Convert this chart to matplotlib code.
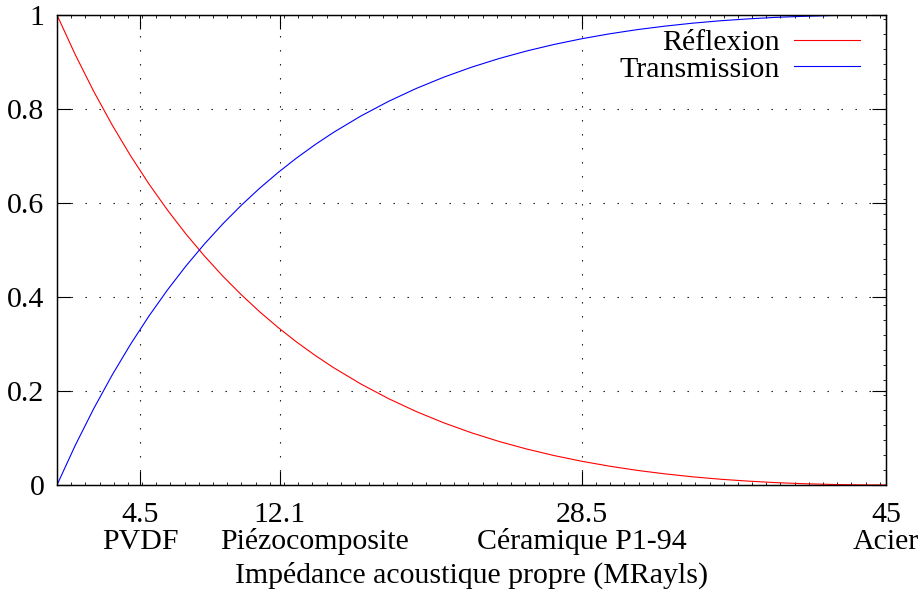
import matplotlib
matplotlib.use("Agg")
import matplotlib.pyplot as plt
from matplotlib.ticker import MultipleLocator

plt.rcParams['font.family'] = ['Liberation Serif', 'DejaVu Serif']

# impedance samples (MRayls)
impedance = [0, 1, 2, 3, 4, 5, 6, 7, 8, 9, 10, 11, 12, 13, 14, 15,
             16.5, 18, 19.5, 21, 22.5, 24, 25.5, 27, 28.5, 30, 31.5, 33,
             34.5, 36, 37.5, 39, 40.5, 42, 43.5, 45]
reflexion = [1.0, 0.9149, 0.8370, 0.7656, 0.7001, 0.64, 0.5848, 0.5340,
             0.4874, 0.4444, 0.4050, 0.3686, 0.3352, 0.3044, 0.2761, 0.25,
             0.2148, 0.1837, 0.1563, 0.1322, 0.1111, 0.0926, 0.0765, 0.0625,
             0.0504, 0.04, 0.0311, 0.0237, 0.0174, 0.0123, 0.0083, 0.0051,
             0.0028, 0.0012, 0.0003, 0.0]
transmission = [0.0, 0.0851, 0.1630, 0.2344, 0.2999, 0.36, 0.4152, 0.4660,
                0.5126, 0.5556, 0.5950, 0.6314, 0.6648, 0.6956, 0.7239, 0.75,
                0.7852, 0.8163, 0.8437, 0.8678, 0.8889, 0.9074, 0.9235, 0.9375,
                0.9496, 0.96, 0.9689, 0.9763, 0.9826, 0.9877, 0.9917, 0.9949,
                0.9972, 0.9988, 0.9997, 1.0]

# materials shown on the x axis
mat_z = [4.5, 12.1, 28.5, 45]
mat_ticks = ["4.5", "12.1", "28.5", "45"]
mat_names = ["PVDF", "Piézocomposite", "Céramique P1-94", "Acier"]
y_ticks = [0, 0.2, 0.4, 0.6, 0.8, 1]
y_labels = ["0", "0.2", "0.4", "0.6", "0.8", "1"]

fs = 21.5
fig = plt.figure(figsize=(9.23, 5.92), dpi=100)
ax = fig.add_axes([57 / 923, 107 / 592, 829 / 923, 470 / 592])

ax.plot(impedance, reflexion, color='#ff0000', lw=0.8, label="Réflexion")
ax.plot(impedance, transmission, color='#0000ff', lw=0.8, label="Transmission")

ax.set_xlim(0, 45)
ax.set_ylim(0, 1)

# dotted grid, skipping the frame edges
dots = (0, (1.2, 11.4))
for z in mat_z[:-1]:
    ax.axvline(z, color='black', lw=0.8, ls=dots, zorder=0)
for y in y_ticks[1:-1]:
    ax.axhline(y, color='black', lw=0.8, ls=dots, zorder=0)

ax.set_xticks(mat_z)
ax.set_xticklabels(mat_ticks, fontsize=fs)
ax.set_yticks(y_ticks)
ax.set_yticklabels(y_labels, fontsize=fs)
ax.xaxis.set_minor_locator(MultipleLocator(0.77))

ax.tick_params(axis='x', which='major', direction='in', length=10, width=0.8,
               top=True, pad=12)
ax.tick_params(axis='x', which='minor', direction='in', length=2.5, width=0.6,
               top=True)
ax.tick_params(axis='y', which='major', direction='in', length=10, width=0.8,
               right=True, pad=9)

# material names under the tick values (the composite one sits a bit right)
name_dx = {"Piézocomposite": 25}
for z, name in zip(mat_z, mat_names):
    ax.annotate(name, xy=(z, 0), xycoords=('data', 'axes fraction'),
                xytext=(name_dx.get(name, 0), -46), textcoords='offset points',
                ha='center', va='baseline', fontsize=fs, annotation_clip=False)

# right side carries its own minor ticks
ax2 = ax.twinx()
ax2.set_ylim(0, 1)
ax2.yaxis.set_major_locator(MultipleLocator(0.2))
ax2.yaxis.set_minor_locator(MultipleLocator(0.032))
ax2.tick_params(axis='y', which='both', direction='in', labelright=False)
ax2.tick_params(axis='y', which='major', length=10, width=0.8)
ax2.tick_params(axis='y', which='minor', length=2.5, width=0.6)

for a in (ax, ax2):
    for s in a.spines.values():
        s.set_linewidth(0.9)
        s.set_color('black')

ax.set_xlabel("Impédance acoustique propre (MRayls)", fontsize=fs, va='baseline')
ax.xaxis.set_label_coords(0.5, -0.2085)

leg = ax.legend(loc='upper right', bbox_to_anchor=(0.9686, 0.970),
                frameon=False, markerfirst=False, fontsize=fs,
                handlelength=2.2, handletextpad=0.47, labelspacing=0.0,
                borderpad=0, borderaxespad=0)
for t in leg.get_texts():
    t.set_ha('right')

fig.savefig("out.png", dpi=100)
